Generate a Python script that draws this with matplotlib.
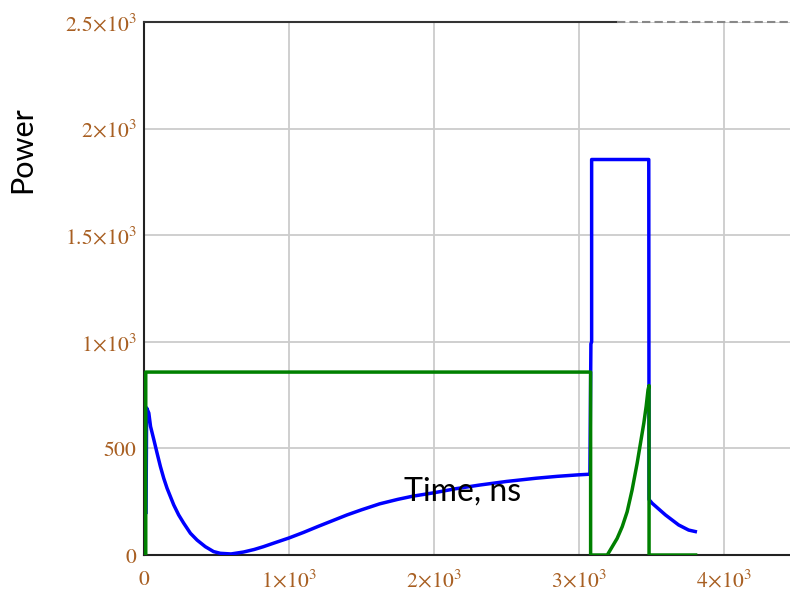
import matplotlib
matplotlib.use("Agg")
import matplotlib.pyplot as plt

# blue trace (power)
blue_t = [14, 18, 33, 45, 68, 90, 113, 136, 159, 182, 205, 239, 274, 320, 366,
          423, 480, 526, 600, 686, 760, 823, 900, 1000, 1100, 1200, 1300, 1400,
          1500, 1625, 1750, 1854, 2000, 2150, 2313, 2500, 2702, 2850, 2995, 3075,
          3082, 3087, 3087, 3481, 3483, 3504, 3596, 3687, 3756, 3802]
blue_p = [200, 690, 666, 603, 540, 478, 415, 360, 313, 274, 235, 188, 149, 102, 70,
          39, 16, 8, 5, 14, 26, 39, 57, 80, 106, 134, 161, 188,
          212, 240, 261, 276, 292, 311, 328, 345, 360, 369, 376, 379,
          990, 1000, 1855, 1855, 260, 243, 188, 141, 117, 110]

# green trace
green_t = [12, 12, 3080, 3080, 3195, 3229, 3263, 3298, 3332, 3366, 3401, 3424,
           3447, 3463, 3476, 3483, 3483, 3804]
green_p = [0, 858, 858, 0, 0, 39, 78, 133, 203, 305, 431, 525,
           619, 697, 775, 795, 0, 0]

xticks = [0, 1000, 2000, 3000, 4000]
xlabels = [r'$0$', r'$1\!\times\!10^{3}$', r'$2\!\times\!10^{3}$',
           r'$3\!\times\!10^{3}$', r'$4\!\times\!10^{3}$']
yticks = [0, 500, 1000, 1500, 2000, 2500]
ylabels = [r'$0$', r'$500$', r'$1\!\times\!10^{3}$', r'$1.5\!\times\!10^{3}$',
           r'$2\!\times\!10^{3}$', r'$2.5\!\times\!10^{3}$']

plt.rcParams['mathtext.fontset'] = 'stix'
tick_col = '#a85f22'

fig = plt.figure(figsize=(7.9, 6.04), dpi=100)
ax = fig.add_axes([0.1823, 0.0811, 0.8177, 0.8825])

ax.plot(blue_t, blue_p, color='#0000ff', linewidth=2.5, zorder=3,
        solid_joinstyle='round')
ax.plot(green_t, green_p, color='#008000', linewidth=2.5, zorder=4,
        solid_joinstyle='round')

ax.set_xlim(0, 4455)
ax.set_ylim(0, 2500)
ax.set_xticks(xticks)
ax.set_xticklabels(xlabels)
ax.set_yticks(yticks)
ax.set_yticklabels(ylabels)
ax.tick_params(axis='both', length=0, labelsize=15.5, colors=tick_col)
ax.tick_params(axis='x', pad=10)
ax.tick_params(axis='y', pad=5)

ax.grid(True, color='#cccccc', linewidth=1.3)
ax.set_axisbelow(True)

for s in ['top', 'right']:
    ax.spines[s].set_visible(False)
for s in ['left', 'bottom']:
    ax.spines[s].set_color('#222222')
    ax.spines[s].set_linewidth(1.5)

# top border: solid then dashed
ax.plot([0, 0.732], [1, 1], transform=ax.transAxes, color='#333333',
        linewidth=1.5, clip_on=False, zorder=5)
ax.plot([0.732, 1.0], [1, 1], transform=ax.transAxes, color='#888888',
        linewidth=1.5, linestyle=(0, (4, 2)), clip_on=False, zorder=5)

fig.text(463 / 790, 1 - 492 / 604, 'Time, ns', fontsize=23, family='Lato',
         ha='center', va='center', color='black')
fig.text(22 / 790, 1 - 150 / 604, 'Power', fontsize=22, family='Lato',
         ha='center', va='center', rotation=90, color='black')

fig.savefig('out.png', dpi=100)
